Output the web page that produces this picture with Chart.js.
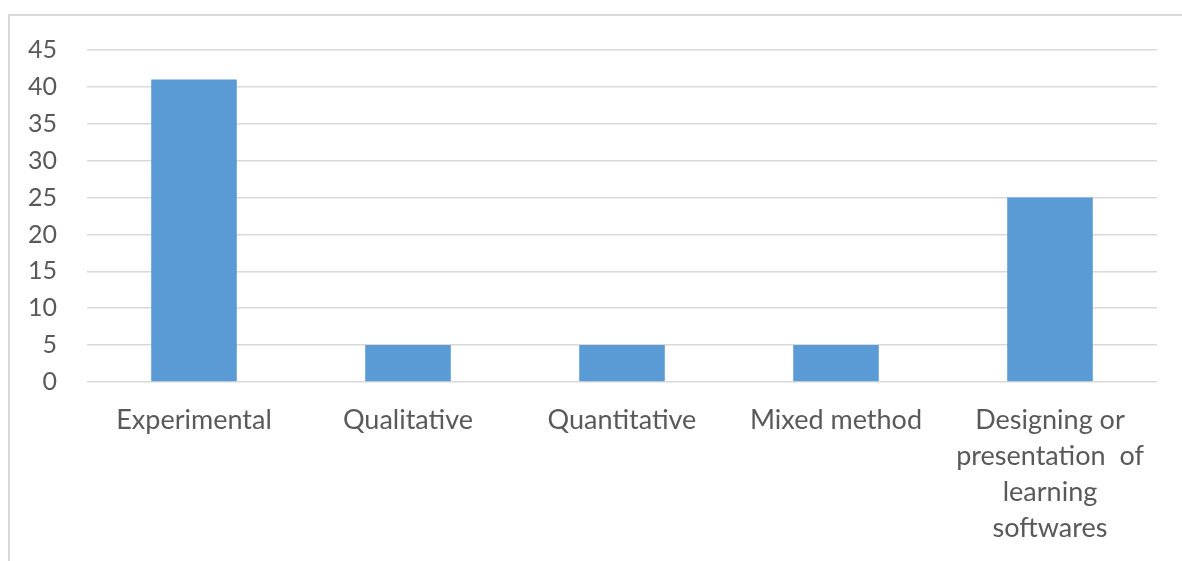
<!DOCTYPE html>
<html>
<head>
<meta charset="utf-8">
<script src="https://cdn.jsdelivr.net/npm/chart.js@4/dist/chart.umd.min.js"></script>
<style>
  html, body { margin: 0; padding: 0; background: #fff; }
  #wrap { position: relative; width: 1182px; height: 561px; overflow: hidden; }
  #frame { position: absolute; left: 8px; top: 14px; right: -5px; bottom: -5px;
           border-top: 2px solid #DADADA; border-left: 2px solid #DADADA; }
  canvas { position: absolute; left: 0; top: 0; }
</style>
</head>
<body>
<div id="wrap">
  <div id="frame"></div>
  <canvas id="grafico" width="1182" height="561"></canvas>
</div>
<script>
// categorias (rótulos do eixo x)
const categorias = [
    "Experimental",
    "Qualitative",
    "Quantitative",
    "Mixed method",
    ["Designing or", "presentation  of", "learning", "softwares"]
];
// valores das barras
const valores = [41, 5, 5, 5, 25];
// rótulos do eixo y
const ticksY = [0, 5, 10, 15, 20, 25, 30, 35, 40, 45];

const corTexto = "#595959";
const fonte = "Lato, 'Open Sans', sans-serif";

const ctx = document.querySelector("#grafico");

new Chart(ctx, {
    type: 'bar',
    data: {
        labels: categorias,
        datasets: [{
            data: valores,
            backgroundColor: "#5B9BD5",
            borderWidth: 0,
            barPercentage: 0.4,
            categoryPercentage: 1.0
        }]
    },
    options: {
        responsive: false,
        animation: false,
        layout: { padding: { top: 50, right: 25, left: 0, bottom: 0 } },
        plugins: {
            legend: { display: false },
            tooltip: { enabled: false }
        },
        scales: {
            y: {
                min: 0,
                max: 45,
                afterBuildTicks: (s) => { s.ticks = ticksY.map(v => ({ value: v })); },
                afterFit: (s) => { s.width = 87; },
                grid: { color: "#D9D9D9", lineWidth: 1.5, drawTicks: false },
                border: { display: false },
                ticks: {
                    color: corTexto,
                    padding: 30,
                    font: { family: fonte, size: 25 }
                }
            },
            x: {
                afterFit: (s) => { s.height = 179; },
                grid: { display: false },
                border: { display: false },
                ticks: {
                    color: corTexto,
                    padding: 12,
                    maxRotation: 0,
                    autoSkip: false,
                    font: { family: fonte, size: 27, lineHeight: 1.34 }
                }
            }
        }
    }
});
</script>
</body>
</html>
